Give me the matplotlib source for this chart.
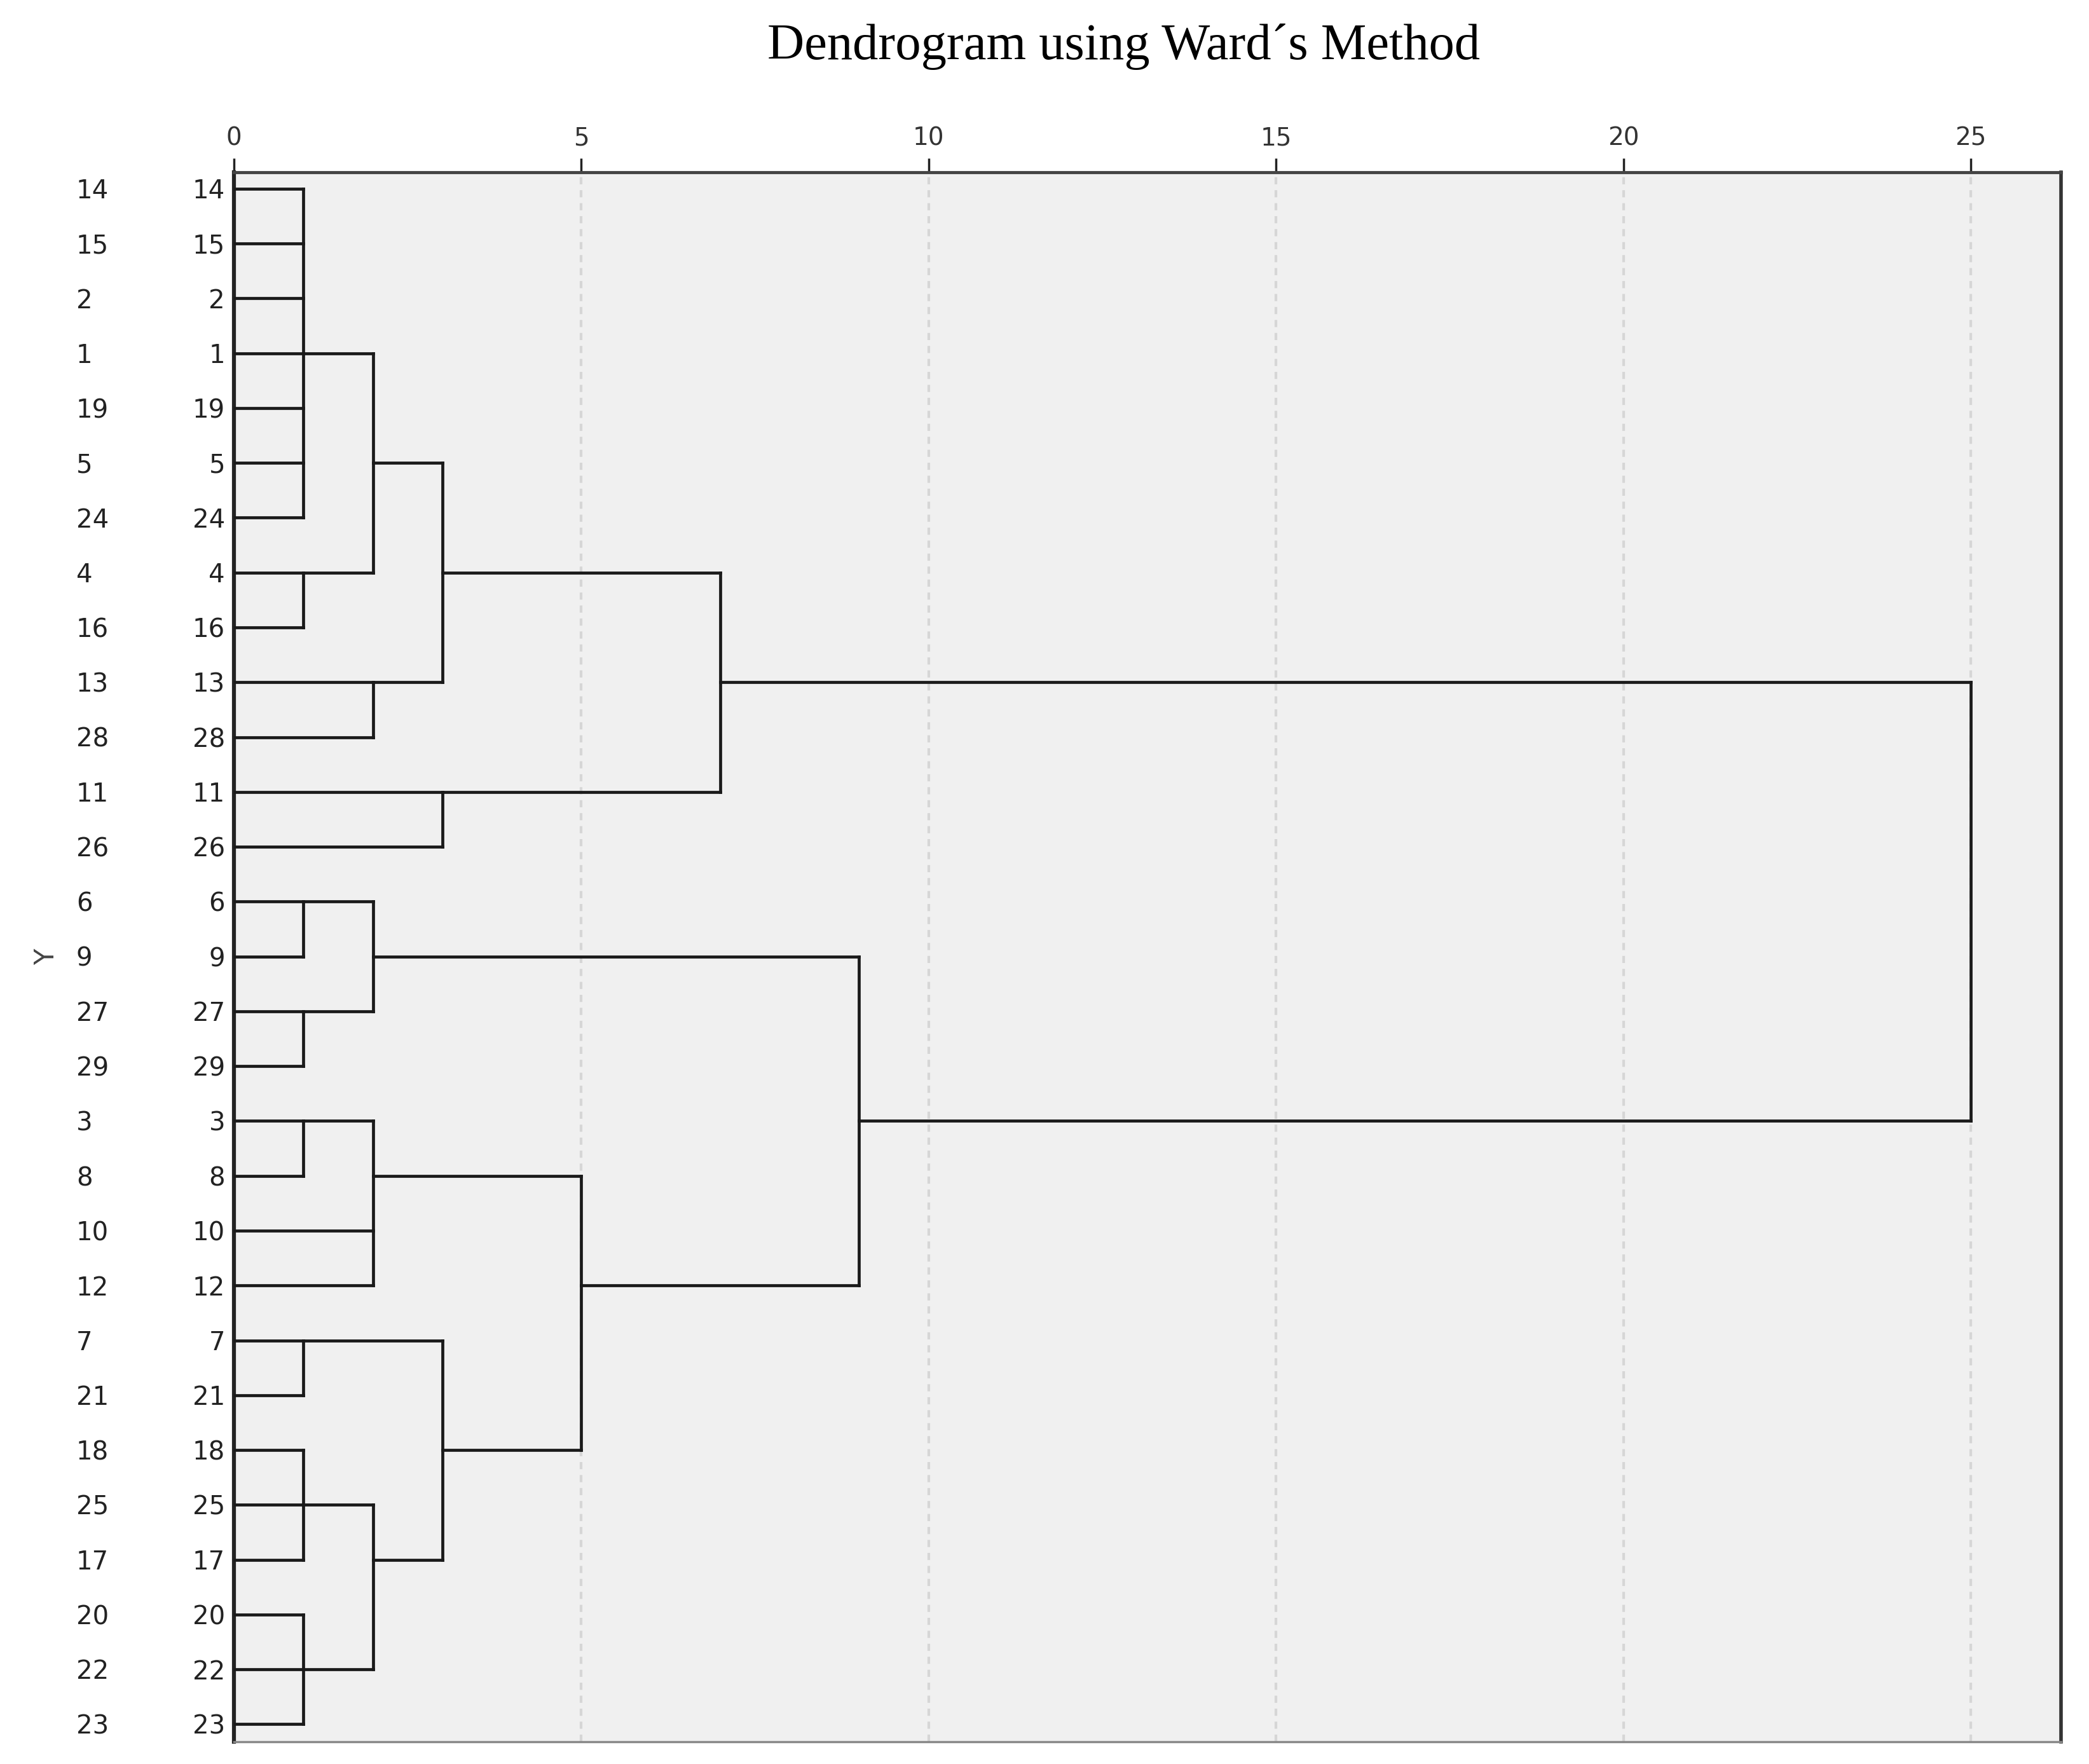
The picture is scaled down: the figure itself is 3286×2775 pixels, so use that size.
import math
import matplotlib
matplotlib.use("Agg")
import matplotlib.pyplot as plt
from matplotlib.transforms import blended_transform_factory

# ---- data ----
leaves = ["14", "15", "2", "1", "19", "5", "24", "4", "16", "13", "28", "11", "26",
          "6", "9", "27", "29", "3", "8", "10", "12", "7", "21", "18", "25", "17",
          "20", "22", "23"]
merge_children = [
    ["14", "15", "2", "1", "19", "5", "24"],  # m0
    ["4", "16"],                              # m1
    ["m0", "m1"],                             # m2
    ["13", "28"],                             # m3
    ["m2", "m3"],                             # m4
    ["11", "26"],                             # m5
    ["m4", "m5"],                             # m6
    ["6", "9"],                               # m7
    ["27", "29"],                             # m8
    ["m7", "m8"],                             # m9
    ["3", "8"],                               # m10
    ["m10", "10", "12"],                      # m11
    ["7", "21"],                              # m12
    ["18", "25", "17"],                       # m13
    ["20", "22", "23"],                       # m14
    ["m13", "m14"],                           # m15
    ["m12", "m15"],                           # m16
    ["m11", "m16"],                           # m17
    ["m9", "m17"],                            # m18
    ["m6", "m18"],                            # m19
]
merge_heights = [1, 1, 2, 2, 3, 3, 7, 1, 1, 2, 1, 2, 1, 1, 1, 2, 3, 5, 9, 25]
x_ticks = [0, 5, 10, 15, 20, 25]
title = "Dendrogram using Ward\u00b4s Method"

# ---- figure ----
W, H = 3287, 2775
fig = plt.figure(figsize=(W / 100, H / 100), dpi=100)
L, R, T, B = 368, 3242, 271, 2740
ax = fig.add_axes([L / W, 1 - B / H, (R - L) / W, (B - T) / H])
ax.set_facecolor("#f0f0f0")
ax.set_xlim(0, 26.3)
ax.set_ylim(28.32, -0.30)

for xv in x_ticks[1:]:
    ax.axvline(xv, color="#d6d6d6", lw=3, linestyle=(0, (2.7, 2.2)), zorder=1)

line_color = "#1a1a1a"
lw = 3.4
info = {}
for i, lab in enumerate(leaves):
    info[lab] = (i, 0.0)

for k, (children, h) in enumerate(zip(merge_children, merge_heights)):
    reps = [info[c] for c in children]
    ys = [r[0] for r in reps]
    ymin, ymax = min(ys), max(ys)
    ax.plot([h, h], [ymin, ymax], color=line_color, lw=lw, solid_capstyle="projecting", zorder=3)
    for (yc, hc) in reps:
        ax.plot([hc, h], [yc, yc], color=line_color, lw=lw, solid_capstyle="projecting", zorder=3)
    info["m%d" % k] = (math.floor((ymin + ymax) / 2), h)

# axes styling
ax.xaxis.tick_top()
ax.set_xticks(x_ticks)
ax.set_xticklabels([str(v) for v in x_ticks])
ax.tick_params(axis="x", direction="out", length=16, width=2.5, color="#222222",
               labelsize=28, labelcolor="#333333", pad=9)
ax.set_yticks(range(len(leaves)))
ax.set_yticklabels(leaves)
ax.tick_params(axis="y", length=0, labelsize=29, labelcolor="#222222", pad=10)

for side, (c, w) in {"left": ("#222222", 4.5), "top": ("#444444", 3.5),
                     "right": ("#333333", 4.0), "bottom": ("#888888", 2.5)}.items():
    ax.spines[side].set_color(c)
    ax.spines[side].set_linewidth(w)

# outer label column
tr = blended_transform_factory(fig.transFigure, ax.transData)
for i, lab in enumerate(leaves):
    ax.text(120 / W, i + 0.05, lab, transform=tr, ha="left", va="center",
            fontsize=29, color="#222222", clip_on=False)

ax.set_ylabel("Y", fontsize=30, color="#444444")
ax.yaxis.set_label_coords((94 - L) / (R - L), 0.5)

fig.text(1768 / W, 1 - 74 / H, title, ha="center", va="center",
         fontsize=58, family="Liberation Serif", color="black")

fig.savefig("out.png", dpi=100, facecolor="white")
